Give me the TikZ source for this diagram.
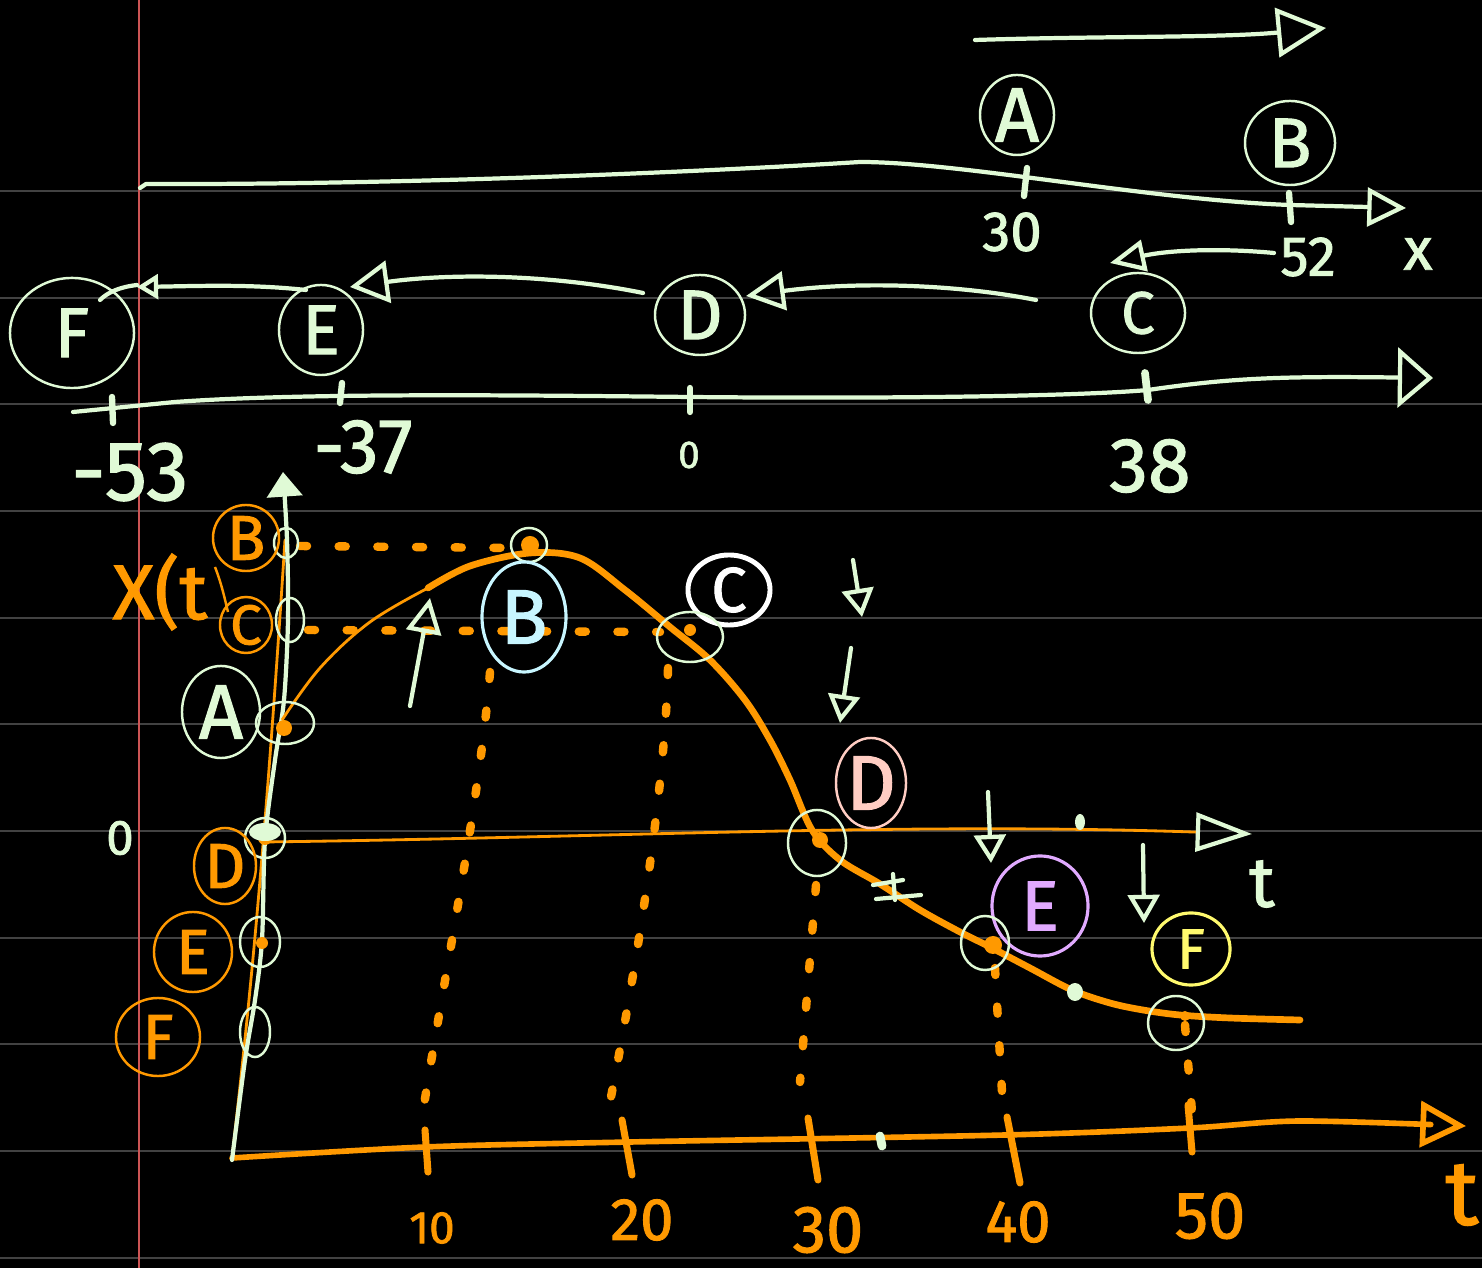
\documentclass[tikz,border=0pt]{standalone}
\usepackage{fontspec}
\setmainfont{Fira Sans}[FakeBold=1.5]
\usetikzlibrary{shapes.geometric,arrows.meta}
\definecolor{mnt}{RGB}{224,250,214}
\definecolor{org}{RGB}{255,153,0}
\definecolor{cyn}{RGB}{200,246,255}
\definecolor{pnk}{RGB}{255,205,195}
\definecolor{lav}{RGB}{225,170,255}
\definecolor{yel}{RGB}{255,250,110}
\definecolor{rulegray}{RGB}{66,66,66}
\definecolor{marginred}{RGB}{205,85,85}
\begin{document}
\begin{tikzpicture}[x=0.01cm,y=-0.01cm,
  hw/.style={font=\fontsize{#1}{#1}\selectfont},
  ell/.style={draw, ellipse, inner sep=0pt, line width=0.7pt},
  mstroke/.style={draw=mnt, line width=1.2pt, line cap=round, line join=round},
  ostroke/.style={draw=org, line width=1.6pt, line cap=round, line join=round},
  odots/.style={draw=org, line width=2.4pt, line cap=round, dash pattern=on 2pt off 9pt},
  otip/.tip={Triangle[open,length=11pt,width=11pt]},
  dtip/.tip={Triangle[open,length=8pt,width=9pt]}
]
\fill[black] (0,0) rectangle (1482,1268);
\useasboundingbox (0,0) rectangle (1482,1268);
% ruled lines
\foreach \yy in {191,298,404,511,618,724,831,938,1044,1151,1258}
  \draw[rulegray, line width=0.8pt] (0,\yy) -- (1482,\yy);
\draw[marginred, line width=0.35pt] (139,0) -- (139,1268);

% ---------------- upper part ----------------
\coordinate (ta0) at (975,40);
\coordinate (ta1) at (1326,28);
\draw[mstroke, -{Triangle[open,length=14pt,width=14pt]}] (ta0) .. controls (1100,36) and (1220,38) .. (ta1);

\node[ell, mnt, minimum width=0.74cm, minimum height=0.80cm, label={[hw=22, text=mnt]center:A}] (cA) at (1017,115) {};
\node[ell, mnt, minimum width=0.90cm, minimum height=0.84cm, label={[hw=20, text=mnt]center:B}] (cB) at (1290,143) {};

\coordinate (ux0) at (140,188);
\coordinate (ux1) at (1406,208);
\draw[mstroke, -{Triangle[open,length=11pt,width=11pt]}] (ux0) -- (146,184) .. controls (400,185) and (700,172) .. (860,162) .. controls (960,162) and (1150,200) .. (1290,205) -- (ux1);
\draw[mstroke, line width=1.8pt] (1027,168) -- (1024,196);
\draw[mstroke, line width=1.8pt] (1289,193) -- (1291,222);
\node[hw=16, text=mnt] (l30) at (1012,232) {30};
\node[hw=16, text=mnt] (l52) at (1308,257) {52};
\node[hw=17, text=mnt] (lx) at (1418,254) {x};

\node[ell, mnt, minimum width=0.94cm, minimum height=0.80cm, label={[hw=17, text=mnt]center:C}] (cC) at (1138,313) {};
\node[ell, mnt, minimum width=0.90cm, minimum height=0.80cm, label={[hw=20, text=mnt]center:D}] (cD) at (700,315) {};
\node[ell, mnt, minimum width=0.84cm, minimum height=0.90cm, label={[hw=20, text=mnt]center:E}] (cE) at (321,330) {};
\node[ell, mnt, minimum width=1.24cm, minimum height=1.10cm, label={[hw=20, text=mnt]center:F}] (cF) at (72,333) {};

% motion arrows
\coordinate (m52) at (1274,253);
\coordinate (mC) at (1110,263);
\draw[mstroke, -{Triangle[open,length=10pt,width=9pt]}] (m52) .. controls (1220,248) and (1170,250) .. (mC);
\coordinate (mC2) at (1036,300);
\coordinate (mD) at (746,296);
\draw[mstroke, -otip] (mC2) .. controls (950,283) and (850,282) .. (mD);
\coordinate (mD2) at (643,293);
\coordinate (mE) at (350,287);
\draw[mstroke, -{Triangle[open,length=11pt,width=12pt]}] (mD2) .. controls (560,276) and (460,272) .. (mE);
\coordinate (mE2) at (306,290);
\coordinate (mF) at (137,287);
\draw[mstroke, -{Triangle[open,length=6pt,width=7pt]}] (mE2) .. controls (250,284) and (200,286) .. (mF);
\draw[mstroke] (137,285) .. controls (120,287) and (108,292) .. (100,300);

% lower x axis
\coordinate (lx0) at (73,412);
\coordinate (lx1) at (1433,378);
\draw[mstroke, -{Triangle[open,length=10pt,width=17pt]}] (lx0) -- (175,402) .. controls (300,393) and (500,395) .. (690,397) .. controls (900,399) and (1080,396) .. (1148,390) .. controls (1230,378) and (1280,376) .. (lx1);
\draw[mstroke, line width=1.8pt] (112,397) -- (113,423);
\draw[mstroke, line width=1.8pt] (342,383) -- (340,403);
\draw[mstroke, line width=1.8pt] (690,388) -- (690,412);
\draw[mstroke, line width=2.2pt] (1145,373) -- (1148,400);
\node[hw=24, text=mnt] (lm53) at (130,472) {-53};
\node[hw=22, text=mnt] (lm37) at (363,447) {-37};
\node[hw=11, text=mnt] (l0) at (689,455) {0};
\node[hw=22, text=mnt] (l38) at (1150,466) {38};

% ---------------- graph ----------------
% orange axes
\coordinate (O) at (232,1158);
\coordinate (tEnd) at (1466,1126);
\draw[ostroke, line width=0.8pt] (O) .. controls (250,1000) and (265,850) .. (285,540);
\draw[ostroke, -{Triangle[open,length=13pt,width=13pt]}] plot[smooth, tension=0.5] coordinates {(232,1158) (425,1147) (630,1142) (1005,1135) (1190,1128) (1300,1121) (1466,1126)};
\draw[ostroke, line width=2pt] (425,1130) -- (428,1172);
\draw[ostroke, line width=2pt] (622,1120) -- (632,1175);
\draw[ostroke, line width=2pt] (808,1118) -- (818,1180);
\draw[ostroke, line width=2pt] (1007,1117) -- (1020,1183);
\draw[ostroke, line width=2pt] (1188,1105) -- (1192,1152);
\node[hw=13, text=org] (t10) at (432,1228) {10};
\node[hw=17, text=org] (t20) at (642,1220) {20};
\node[hw=19, text=org, inner sep=1pt] (t30) at (828,1230) {30};
\node[hw=17, text=org] (t40) at (1018,1222) {40};
\node[hw=19, text=org] (t50) at (1210,1216) {50};
\node[hw=26, text=org] (tlab) at (1462,1195) {t};
\draw[mnt, line width=2.5pt, line cap=round] (880,1136) -- (882,1146);

% zero line
\coordinate (z0) at (262,842);
\coordinate (z1) at (1252,834);
\draw[draw=org, line width=0.8pt, -{Triangle[open,length=16pt,width=11pt,color=mnt,line width=1.2pt]}] (z0) .. controls (600,838) and (900,822) .. (z1);
\fill[mnt] (1080,822) ellipse (5 and 8);
\node[hw=20, text=mnt] (tz) at (1262,884) {t};
\node[hw=14, text=mnt] (z0lab) at (120,838) {0};

% mint y axis
\coordinate (yTop) at (283,472);
\draw[mstroke, -{Triangle[length=7pt,width=10pt]}] plot[smooth, tension=0.5] coordinates {(232,1160) (245,1060) (255,1000) (262,940) (265,840) (275,760) (284,700) (288,620) (287,540) (yTop)};

% dotted guides
\coordinate (pkB) at (530,545);
\coordinate (pkC) at (690,630);
\draw[odots] (300,546) -- (515,548);
\draw[odots] (308,630) -- (660,632);
\draw[odots] (490,672) .. controls (480,800) and (440,1000) .. (422,1118);
\draw[odots] (668,668) .. controls (665,800) and (630,1000) .. (610,1102);
\draw[odots] (816,885) -- (800,1082);
\draw[odots] (995,968) -- (1003,1110);
\draw[odots] (1185,1025) -- (1192,1112);

% x(t) curve
\draw[org, line width=0.8pt] plot[smooth, tension=0.6] coordinates {(282,720) (320,668) (370,622) (428,588)};
\draw[org, line width=1.9pt, line cap=round] plot[smooth, tension=0.55] coordinates {(428,588) (470,566) (530,553) (580,558) (625,590) (670,627) (710,660) (745,700) (770,740) (790,780) (812,830) (840,860) (880,884) (920,910) (960,932) (990,947) (1030,968) (1072,990) (1110,1003) (1143,1010) (1180,1015) (1230,1018) (1300,1020)};

% blobs
\fill[org] (530,545) circle (9);
\fill[org] (284,728) circle (8);
\fill[org] (265,838) circle (7);
\fill[org] (262,943) circle (6);
\fill[org] (820,840) circle (8);
\fill[org] (993,945) circle (9);
\fill[org] (1185,1016) circle (5);
\fill[org] (690,630) circle (6);
\fill[mnt] (1075,992) ellipse (8 and 9);
\fill[mnt] (265,832) ellipse (16 and 9);

% mint circles on axis
\node[ell, mnt, minimum width=0.24cm, minimum height=0.30cm] (yB) at (286,543) {};
\node[ell, mnt, minimum width=0.28cm, minimum height=0.44cm] (yC) at (290,620) {};
\node[ell, mnt, minimum width=0.58cm, minimum height=0.42cm] (yA) at (285,723) {};
\node[ell, mnt, minimum width=0.40cm, minimum height=0.40cm] (yD) at (265,838) {};
\node[ell, mnt, minimum width=0.40cm, minimum height=0.50cm] (yE) at (260,942) {};
\node[ell, mnt, minimum width=0.30cm, minimum height=0.50cm] (yF) at (255,1032) {};

% left labels
\node[ell, org, minimum width=0.66cm, minimum height=0.66cm, label={[hw=18, text=org]center:B}] (oB) at (246,538) {};
\node[ell, org, minimum width=0.52cm, minimum height=0.56cm, label={[hw=16, text=org]center:C}] (oC) at (246,625) {};
\draw[org, line width=0.7pt] (215,567) .. controls (222,585) and (225,600) .. (228,612);
\node[hw=22, text=org] (xt) at (160,592) {X(t};
\node[ell, mnt, minimum width=0.78cm, minimum height=0.92cm, label={[hw=22, text=mnt]center:A}] (gA) at (221,712) {};
\node[ell, org, minimum width=0.62cm, minimum height=0.76cm, label={[hw=18, text=org]center:D}] (oD) at (225,866) {};
\node[ell, org, minimum width=0.78cm, minimum height=0.80cm, label={[hw=18, text=org]center:E}] (oE) at (193,952) {};
\node[ell, org, minimum width=0.84cm, minimum height=0.78cm, label={[hw=18, text=org]center:F}] (oF) at (158,1037) {};

% curve point circles
\node[ell, mnt, minimum width=0.36cm, minimum height=0.34cm] (pB) at (529,545) {};
\node[ell, cyn, line width=0.9pt, minimum width=0.84cm, minimum height=1.10cm, label={[hw=22, text=cyn]center:B}] (cyB) at (524,617) {};
\node[ell, white, line width=1.4pt, minimum width=0.82cm, minimum height=0.70cm, label={[hw=18, text=white]center:C}] (wC) at (729,590) {};
\node[ell, mnt, minimum width=0.66cm, minimum height=0.50cm] (pC) at (690,637) {};
\node[ell, pnk, minimum width=0.70cm, minimum height=0.90cm, label={[hw=22, text=pnk]center:D}] (pkD) at (871,783) {};
\node[ell, mnt, minimum width=0.58cm, minimum height=0.66cm] (pD) at (817,843) {};
\node[ell, lav, line width=0.9pt, minimum width=0.96cm, minimum height=1.00cm, label={[hw=20, text=lav]center:E}] (lvE) at (1040,906) {};
\node[ell, mnt, minimum width=0.48cm, minimum height=0.54cm] (pE) at (985,943) {};
\node[ell, yel, line width=0.9pt, minimum width=0.78cm, minimum height=0.72cm, label={[hw=16, text=yel]center:F}] (yelF) at (1191,949) {};
\node[ell, mnt, minimum width=0.56cm, minimum height=0.54cm] (pF) at (1176,1023) {};

% velocity arrows
\coordinate (vA0) at (410,706);
\coordinate (vA1) at (430,598);
\draw[mstroke, -{Triangle[open,length=10pt,width=10pt]}] (vA0) -- (vA1);
\coordinate (d1a) at (853,560); \coordinate (d1b) at (862,617);
\coordinate (d2a) at (851,648); \coordinate (d2b) at (840,723);
\coordinate (d3a) at (988,792); \coordinate (d3b) at (991,863);
\coordinate (d4a) at (1143,845); \coordinate (d4b) at (1144,923);
\draw[mstroke, -dtip] (d1a) -- (d1b);
\draw[mstroke, -dtip] (d2a) -- (d2b);
\draw[mstroke, -dtip] (d3a) -- (d3b);
\draw[mstroke, -dtip] (d4a) -- (d4b);
% small = mark
\draw[mstroke] (873,885) -- (903,880);
\draw[mstroke] (876,899) -- (921,895);
\draw[mstroke] (893,874) -- (895,900);
\end{tikzpicture}
\end{document}
